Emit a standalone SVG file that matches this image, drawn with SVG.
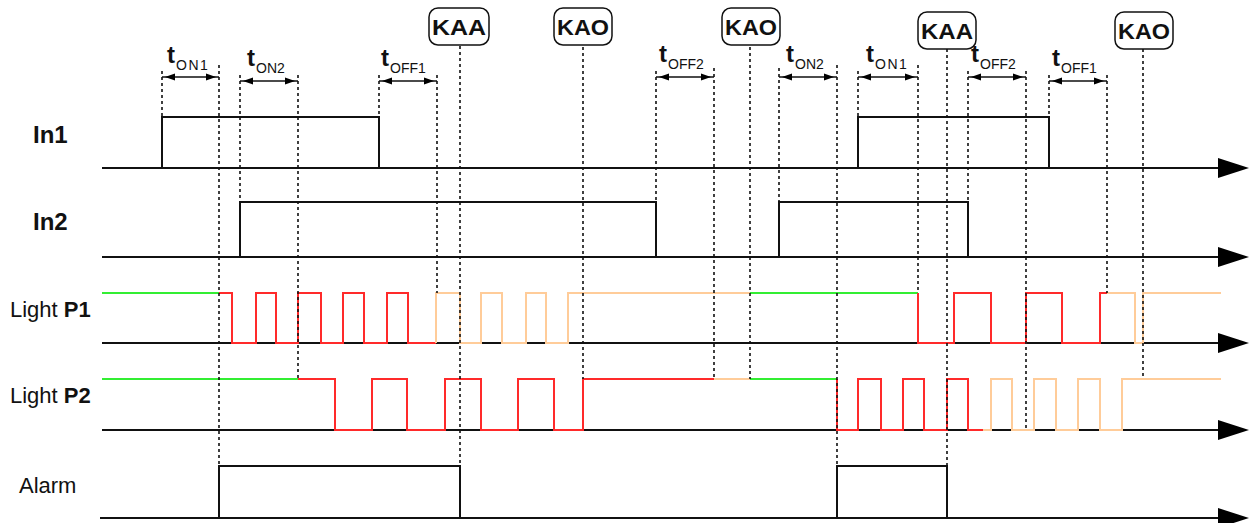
<svg xmlns="http://www.w3.org/2000/svg" width="1249" height="523" viewBox="0 0 1249 523">
<style>
.axis{stroke:#111;stroke-width:2;fill:none}
.sig{stroke:#111;stroke-width:2;fill:none}
.g{stroke:#33ee33;stroke-width:2;fill:none}
.r{stroke:#ff2a2a;stroke-width:2;fill:none}
.o{stroke:#ffcc99;stroke-width:2;fill:none}
.dash{stroke:#111;stroke-width:1.6;stroke-dasharray:3 3;fill:none}
.dim{stroke:#111;stroke-width:1.5;fill:none}
.lbl{font-family:"Liberation Sans",Arial,sans-serif;font-size:22px;fill:#111}
.big{font-size:24px}
.b{font-weight:bold}
.t{font-family:"Liberation Sans",Arial,sans-serif;font-weight:bold;font-size:24px;fill:#111}
.sub{font-family:"Liberation Sans",Arial,sans-serif;font-weight:normal;font-size:14px;fill:#111}
.box{fill:#fff;stroke:#111;stroke-width:1.5}
.kt{font-family:"Liberation Sans",Arial,sans-serif;font-weight:bold;font-size:22px;fill:#111}
.ah{fill:#000}
</style>
<defs>
<polygon id="axhead" points="0,-10 31,0 0,10" class="ah"/>
<polygon id="dl" points="0,0 10,-3.5 10,3.5" class="ah"/>
<polygon id="dr" points="0,0 -10,-3.5 -10,3.5" class="ah"/>
</defs>

<g id="row-in1">
<text class="lbl big b" x="33" y="143">In1</text>
<line class="axis" x1="102" y1="168" x2="1220" y2="168"/>
<use href="#axhead" x="1218" y="168"/>
<path class="sig" d="M162,168 V117 H379 V168 M858,168 V117 H1049 V168"/>
</g>

<g id="row-in2">
<text class="lbl big b" x="33" y="230">In2</text>
<line class="axis" x1="102" y1="257" x2="1220" y2="257"/>
<use href="#axhead" x="1218" y="257"/>
<path class="sig" d="M240,257 V202 H656 V257 M779,257 V202 H968 V257"/>
</g>

<g id="row-p1">
<text class="lbl" x="10" y="317">Light <tspan class="b">P1</tspan></text>
<line class="axis" x1="102" y1="343" x2="1220" y2="343"/>
<use href="#axhead" x="1218" y="343"/>
<path class="g" d="M102,293 H219 M750,293 H918"/>
<path class="r" d="M219,293 H232 V343 H256 V293 H276 V343 H298 V293 H321 V343 H343 V293 H364 V343 H387 V293 H408 V343 H436"/>
<path class="o" d="M436,343 V293 H460 V343 H481 V293 H502 V343 H526 V293 H546 V343 H568 V293 H750"/>
<path class="r" d="M918,293 V343 H954 V293 H991 V343 H1026 V293 H1062 V343 H1100 V293 H1107"/>
<path class="o" d="M1107,293 H1135 V343 H1143 V293 H1221"/>
</g>

<g id="row-p2">
<text class="lbl" x="10" y="403">Light <tspan class="b">P2</tspan></text>
<line class="axis" x1="102" y1="430" x2="1220" y2="430"/>
<use href="#axhead" x="1218" y="430"/>
<path class="g" d="M102,379 H298 M750,379 H837"/>
<path class="r" d="M298,379 H335 V430 H372 V379 H407 V430 H445 V379 H481 V430 H518 V379 H554 V430 H583 V379 H714"/>
<path class="o" d="M714,379 H750"/>
<path class="r" d="M837,379 V430 H858 V379 H881 V430 H903 V379 H924 V430 H947 V379 H968 V430 H983"/>
<path class="o" d="M983,430 H991 V379 H1012 V430 H1034 V379 H1056 V430 H1078 V379 H1100 V430 H1122 V379 H1221"/>
</g>

<g id="row-alarm">
<text class="lbl" x="19" y="493">Alarm</text>
<line class="axis" x1="100" y1="518" x2="1220" y2="518"/>
<use href="#axhead" x="1218" y="518"/>
<path class="sig" d="M219,518 V466 H460 V518 M837,518 V466 H947 V518"/>
</g>

<g id="connectors">
<path class="dash" d="M162,71 V117 M219,65 V466 M240,75 V202 M298,75 V379 M379,75 V117 M437,75 V293 M460,46 V466 M583,47 V379 M656,71 V202 M714,68 V379 M750,47 V379 M779,68 V202 M837,65 V466 M858,71 V117 M918,65 V293 M947,49 V466 M968,71 V202 M1026,71 V430 M1049,75 V117 M1107,75 V293 M1143,49 V379"/>
<g id="dims">
<path class="dim" d="M162,77 H219 M240,81 H298 M379,81 H437 M656,77 H714 M779,77 H837 M858,77 H918 M968,77 H1026 M1049,81 H1107"/>
<use href="#dl" x="165" y="77"/><use href="#dr" x="216" y="77"/>
<use href="#dl" x="243" y="81"/><use href="#dr" x="295" y="81"/>
<use href="#dl" x="382" y="81"/><use href="#dr" x="434" y="81"/>
<use href="#dl" x="659" y="77"/><use href="#dr" x="711" y="77"/>
<use href="#dl" x="782" y="77"/><use href="#dr" x="834" y="77"/>
<use href="#dl" x="861" y="77"/><use href="#dr" x="915" y="77"/>
<use href="#dl" x="971" y="77"/><use href="#dr" x="1023" y="77"/>
<use href="#dl" x="1052" y="81"/><use href="#dr" x="1104" y="81"/>
</g>
</g>

<g id="timing-labels">
<text class="t" x="167" y="63">t<tspan class="sub" dx="1" dy="7" letter-spacing="1.5">ON1</tspan></text>
<text class="t" x="247" y="66">t<tspan class="sub" dx="1" dy="7">ON2</tspan></text>
<text class="t" x="381" y="66">t<tspan class="sub" dx="1" dy="7">OFF1</tspan></text>
<text class="t" x="659" y="62">t<tspan class="sub" dx="1" dy="7">OFF2</tspan></text>
<text class="t" x="786" y="62">t<tspan class="sub" dx="1" dy="7">ON2</tspan></text>
<text class="t" x="866" y="62">t<tspan class="sub" dx="1" dy="7" letter-spacing="1.5">ON1</tspan></text>
<text class="t" x="971" y="62">t<tspan class="sub" dx="1" dy="7">OFF2</tspan></text>
<text class="t" x="1052" y="66">t<tspan class="sub" dx="1" dy="7">OFF1</tspan></text>
</g>

<g id="kaa-1"><rect class="box" x="429" y="8" width="60" height="37" rx="9"/><text class="kt" x="459" y="35" text-anchor="middle" textLength="54" lengthAdjust="spacingAndGlyphs">KAA</text></g>
<g id="kao-1"><rect class="box" x="554" y="8" width="58" height="37" rx="9"/><text class="kt" x="583" y="35" text-anchor="middle" textLength="52" lengthAdjust="spacingAndGlyphs">KAO</text></g>
<g id="kao-2"><rect class="box" x="722" y="8" width="58" height="37" rx="9"/><text class="kt" x="751" y="35" text-anchor="middle" textLength="52" lengthAdjust="spacingAndGlyphs">KAO</text></g>
<g id="kaa-2"><rect class="box" x="918" y="12" width="58" height="37" rx="9"/><text class="kt" x="947" y="39" text-anchor="middle" textLength="52" lengthAdjust="spacingAndGlyphs">KAA</text></g>
<g id="kao-3"><rect class="box" x="1115" y="12" width="58" height="37" rx="9"/><text class="kt" x="1144" y="39" text-anchor="middle" textLength="52" lengthAdjust="spacingAndGlyphs">KAO</text></g>
</svg>
